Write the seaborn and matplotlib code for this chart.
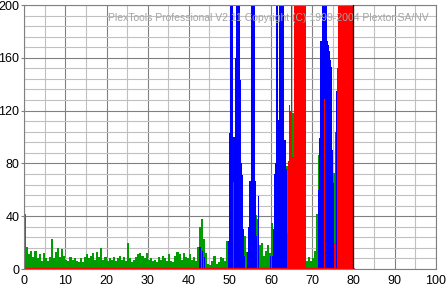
import numpy as np
import pandas as pd
import matplotlib
matplotlib.use("Agg")
import matplotlib.pyplot as plt
import seaborn as sns
from matplotlib.ticker import MultipleLocator

# ---------------- data ----------------
GREEN_STEP = 0.5
green_start = 0.0
green = [
    42, 17, 11, 14, 9, 14, 8, 11, 6, 12,
    8, 6, 9, 23, 8, 13, 16, 9, 15, 10,
    7, 6, 9, 7, 8, 6, 5, 8, 5, 9,
    11, 8, 10, 12, 7, 13, 9, 16, 7, 9,
    6, 8, 7, 9, 6, 8, 10, 7, 9, 6,
    20, 8, 5, 7, 9, 11, 12, 10, 8, 12,
    7, 8, 6, 7, 5, 9, 7, 10, 8, 6,
    11, 6, 5, 10, 13, 11, 7, 12, 9, 8,
    11, 7, 9, 6, 17, 32, 38, 23, 12, 4,
    3, 6, 10, 4, 5, 9, 8, 6, 21, 20,
    30, 20, 25, 30, 25, 35, 30, 25, 13, 15,
    30, 45, 41, 38, 18, 20, 10, 14, 18, 12,
    35, 22, 38, 45, 55, 65, 70, 78, 81, 73,
    118, 60, 60, 60, 60, 60, 60, 6, 9, 6,
    8, 14, 42, 86, 100, 110, 110, 110, 100, 80,
    73, 55, 50, 40, 40, 40, 40, 40, 40, 40,
]

FINE_STEP = 0.25
fine_start = 42.0
blue = [
    0, 0, 17, 17, 0, 14, 0, 9,
    0, 0, 0, 0, 0, 0, 0, 0,
    0, 0, 0, 0, 0, 0, 0, 0,
    0, 0, 0, 0, 0, 0, 21, 103,
    200, 200, 200, 100, 100, 160, 200, 200,
    200, 200, 143, 80, 71, 30, 10, 0,
    0, 13, 32, 67, 200, 200, 200, 200,
    67, 25, 0, 55, 0, 0, 0, 0,
    0, 0, 0, 0, 0, 0, 0, 10,
    0, 10, 30, 72, 80, 200, 200, 113,
    200, 200, 200, 200, 200, 98, 76, 0,
    0, 0, 0, 0, 0, 0, 0, 0,
    0, 0, 0, 0, 0, 0, 0, 0,
    0, 0, 0, 0, 0, 0, 0, 0,
    0, 0, 0, 0, 0, 0, 60, 99,
    173, 200, 200, 200, 200, 200, 173, 170,
    165, 158, 153, 90, 65, 0, 0, 135,
    0, 0, 0, 0, 0, 0, 0, 0,
    0, 0, 0, 0, 0, 0, 0, 0,
]
red = [
    0, 0, 0, 0, 0, 0, 0, 0,
    0, 0, 0, 0, 0, 0, 0, 0,
    0, 0, 0, 0, 0, 0, 0, 0,
    0, 0, 0, 0, 0, 0, 0, 0,
    0, 0, 0, 66, 0, 0, 0, 0,
    0, 0, 0, 0, 0, 0, 0, 0,
    0, 0, 0, 0, 0, 0, 0, 0,
    0, 0, 0, 0, 0, 0, 0, 0,
    0, 0, 0, 0, 0, 0, 0, 0,
    0, 0, 0, 0, 0, 0, 0, 0,
    0, 0, 0, 0, 0, 0, 0, 27,
    82, 124, 120, 200, 85, 85, 200, 200,
    200, 200, 200, 200, 200, 200, 200, 200,
    200, 200, 0, 0, 0, 0, 0, 0,
    0, 0, 0, 0, 0, 0, 0, 0,
    0, 0, 0, 129, 0, 0, 0, 0,
    0, 0, 0, 0, 0, 20, 104, 0,
    152, 200, 200, 200, 200, 200, 200, 200,
    200, 200, 200, 200, 200, 200, 200, 200,
]
red_base_t = [0, 80]
red_base_v = [0, 0]

x_ticks = [0, 10, 20, 30, 40, 50, 60, 70, 80, 90, 100]
y_ticks = [0, 40, 80, 120, 160, 200]
title_text = "PlexTools Professional V2.11 Copyright (C) 1999-2004 Plextor SA/NV"

GREEN = "#009c00"
BLUE = "#0000ff"
RED = "#ff0000"

# ---------------- figure ----------------
sns.set_theme(style="white")
plt.rcParams["font.family"] = ["Liberation Sans", "DejaVu Sans"]

fig = plt.figure(figsize=(4.46, 2.87), dpi=100)
fig.patch.set_facecolor("white")
ax = fig.add_axes([24.2 / 446, 18 / 287, 411.5 / 446, 264 / 287])
ax.set_facecolor("white")


def series(start, step, vals):
    t = start + step * np.arange(len(vals))
    edges = list(np.append(t, t[-1] + step))
    df = pd.DataFrame({"t": t, "v": np.asarray(vals, dtype=float)})
    return df, edges


gdf, ge = series(green_start, GREEN_STEP, green)
bdf, fe = series(fine_start, FINE_STEP, blue)
rdf, _ = series(fine_start, FINE_STEP, red)

for df, edges, col in [(gdf, ge, GREEN), (bdf, fe, BLUE), (rdf, fe, RED)]:
    sns.histplot(data=df, x="t", weights="v", bins=edges, element="step",
                 fill=True, color=col, alpha=1, linewidth=0, ax=ax)

sns.lineplot(x=red_base_t, y=red_base_v, color=RED, linewidth=2.4, ax=ax)

ax.axvline(fe[-1], color="black", linewidth=0.9, zorder=5)

ax.set_xlim(0, 100)
ax.set_ylim(0, 200)
ax.set_xticks(x_ticks)
ax.set_yticks(y_ticks)
ax.set_xticklabels([str(v) for v in x_ticks])
ax.set_yticklabels([str(v) for v in y_ticks])
ax.xaxis.set_minor_locator(MultipleLocator(5))
ax.yaxis.set_minor_locator(MultipleLocator(8))
ax.set_axisbelow(True)
ax.grid(which="major", color="#808080", linewidth=0.8)
ax.grid(which="minor", color="#c0c0c0", linewidth=0.8)
ax.set_xlabel("")
ax.set_ylabel("")
for s in ax.spines.values():
    s.set_color("#808080")
    s.set_linewidth(0.8)

ax.tick_params(axis="x", which="both", length=0, pad=4.5, labelsize=9,
               colors="black")
ax.tick_params(axis="y", which="major", length=2.4, width=0.8, pad=1,
               labelsize=9, color="#808080", labelcolor="black", left=True)
ax.tick_params(axis="y", which="minor", length=0)

ax.text(0.984, 0.939, title_text, transform=ax.transAxes, ha="right",
        va="baseline", color="#a4a4a4", fontsize=7.5,
        family=["Liberation Sans", "DejaVu Sans"], zorder=10)

fig.savefig("out.png", dpi=100, facecolor="white")
